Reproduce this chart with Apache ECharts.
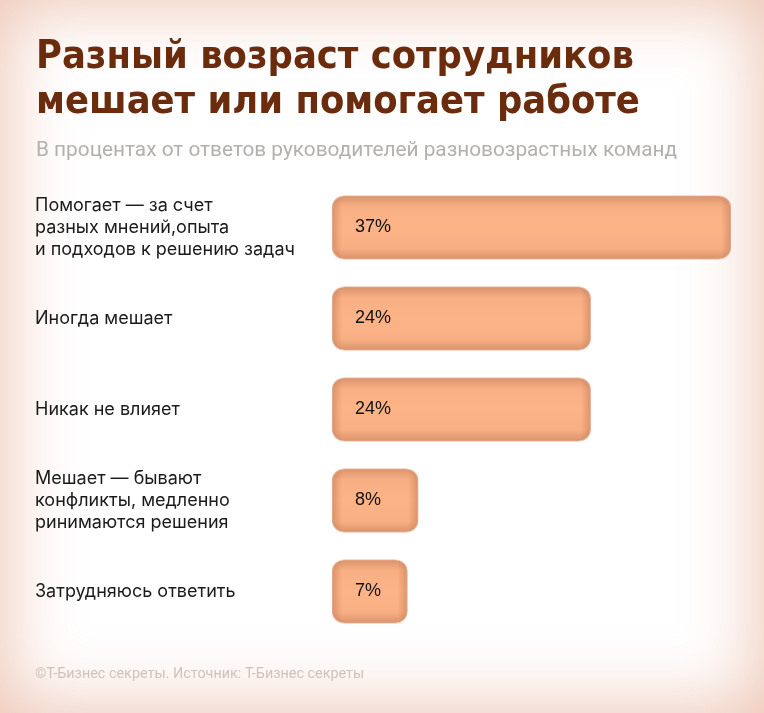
<!DOCTYPE html>
<html>
<head>
<meta charset="utf-8">
<script src="https://cdn.jsdelivr.net/npm/echarts@6/dist/echarts.min.js"></script>
<style>
  html, body {
    margin: 0;
    padding: 0;
  }
  #wrap {
    width: 764px;
    height: 713px;
    background: #ffffff;
    box-shadow: inset 0 0 70px 6px rgba(222, 150, 118, 0.55);
  }
  #chart {
    width: 764px;
    height: 713px;
  }
</style>
</head>
<body>
<div id="wrap"><div id="chart"></div></div>
<script>
const categories = [
  'Помогает — за счет\nразных мнений,опыта\nи подходов к решению задач',
  'Иногда мешает',
  'Никак не влияет',
  'Мешает — бывают\nконфликты, медленно\nринимаются решения',
  'Затрудняюсь ответить'
]
const values = [37, 24, 24, 8, 7]

const titleText = 'Разный возраст сотрудников\nмешает или помогает работе'
const subtitleText = 'В процентах от ответов руководителей разновозрастных команд'
const footerText = '©Т-Бизнес секреты. Источник: Т-Бизнес секреты'

const myChart = echarts.init(document.getElementById('chart'))

const gridLeft = 332
const gridWidth = 399
const xMax = 37

// darker shade near the short ends of each bar
function edgeShade(value) {
  const w = value / xMax * gridWidth
  const f = Math.min(0.3, 10 / w)
  return {
    type: 'linear', x: 0, y: 0, x2: 1, y2: 0,
    colorStops: [
      { offset: 0, color: 'rgba(190,115,75,0.5)' },
      { offset: f, color: 'rgba(190,115,75,0)' },
      { offset: 1 - f, color: 'rgba(190,115,75,0)' },
      { offset: 1, color: 'rgba(190,115,75,0.5)' }
    ]
  }
}

const option = {
  animation: false,
  title: [
    {
      text: titleText,
      left: 31,
      top: 30,
      textStyle: {
        fontFamily: 'DejaVu Sans Condensed',
        fontSize: 39.4,
        fontWeight: 'bold',
        color: '#6a2c0d',
        lineHeight: 45
      }
    },
    {
      text: subtitleText,
      left: 31,
      top: 135,
      textStyle: {
        fontFamily: 'Roboto',
        fontSize: 20.8,
        fontWeight: 'normal',
        color: '#b3b0ae'
      }
    },
    {
      text: footerText,
      left: 30,
      top: 662,
      textStyle: {
        fontFamily: 'Roboto',
        fontSize: 14.4,
        fontWeight: 'normal',
        color: '#d2c1b9'
      }
    }
  ],
  grid: {
    left: gridLeft,
    width: gridWidth,
    top: 182,
    height: 455
  },
  xAxis: {
    type: 'value',
    min: 0,
    max: xMax,
    show: false
  },
  yAxis: {
    type: 'category',
    inverse: true,
    data: categories,
    axisLine: { show: false },
    axisTick: { show: false },
    splitLine: { show: false },
    axisLabel: {
      align: 'left',
      margin: 297,
      fontFamily: 'Inter',
      fontSize: 18,
      lineHeight: 22,
      color: '#1a1a1a'
    }
  },
  series: [
    {
      type: 'bar',
      data: values,
      barCategoryGap: '29%',
      barGap: '-100%',
      itemStyle: {
        borderRadius: 12,
        borderColor: 'rgba(245,215,200,0.9)',
        borderWidth: 1,
        color: {
          type: 'linear', x: 0, y: 0, x2: 0, y2: 1,
          colorStops: [
            { offset: 0, color: '#d8916a' },
            { offset: 0.18, color: '#f8af84' },
            { offset: 0.5, color: '#fcb487' },
            { offset: 0.82, color: '#f8af84' },
            { offset: 1, color: '#d8916a' }
          ]
        }
      }
    },
    {
      type: 'bar',
      data: values.map(v => ({
        value: v,
        itemStyle: { color: edgeShade(v) }
      })),
      barCategoryGap: '29%',
      barGap: '-100%',
      itemStyle: {
        borderRadius: 12
      },
      label: {
        show: true,
        position: 'insideLeft',
        distance: 23,
        formatter: '{c}%',
        fontFamily: 'Liberation Sans',
        fontSize: 18,
        color: '#111111'
      }
    }
  ]
}

myChart.setOption(option)
</script>
</body>
</html>
